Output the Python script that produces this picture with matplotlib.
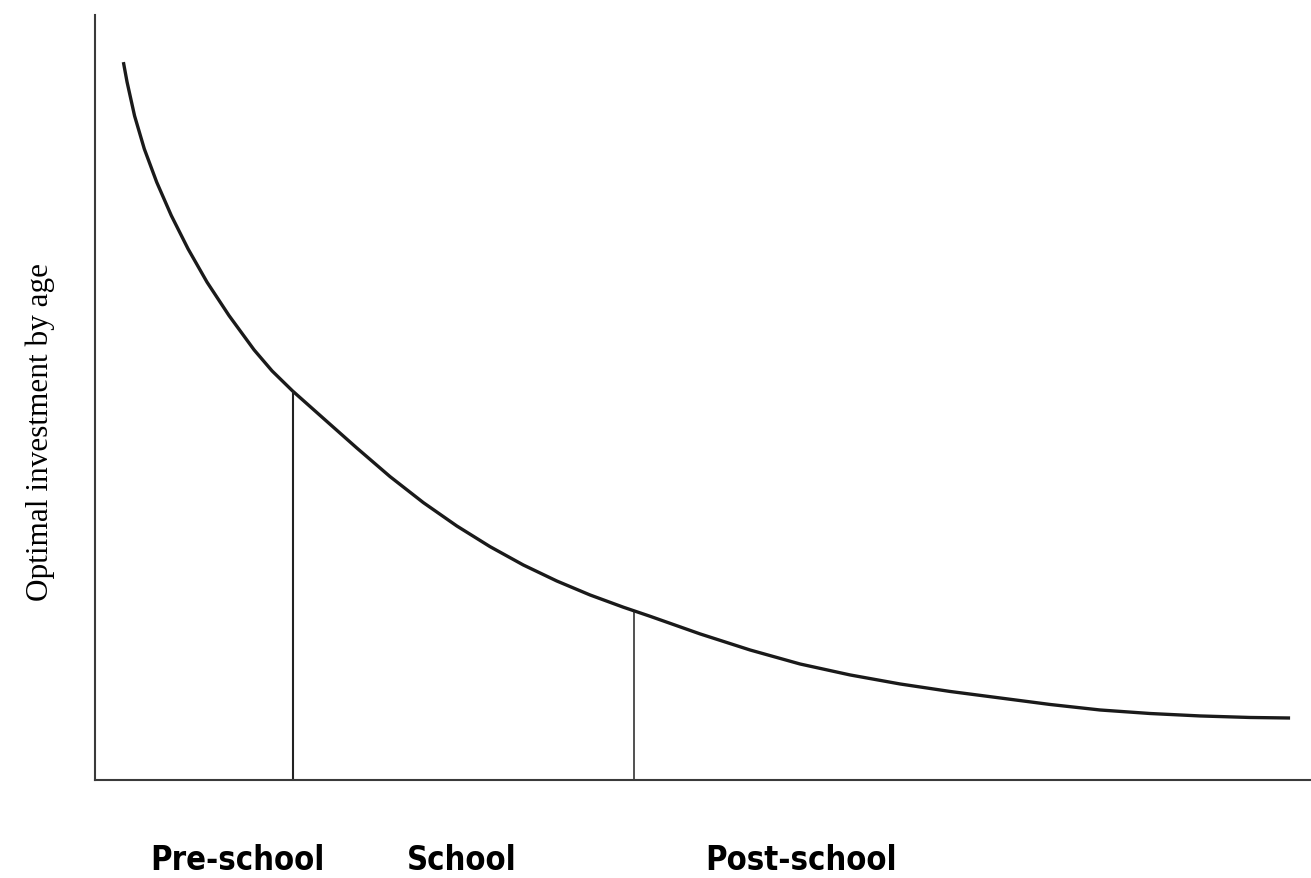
import numpy as np
import matplotlib.pyplot as plt

# ================== DATI ==================
# eta' (unita' arbitrarie, 0-100) e investimento ottimale (0-100)
age = [2.33, 2.63, 3.25, 4.05, 5.07, 6.27, 7.65, 9.21, 11.02, 13.08,
       14.56, 16.24, 18.78, 21.52, 24.26, 27.00, 29.75, 32.48, 35.22,
       37.97, 40.71, 43.45, 45.64, 49.76, 53.87, 57.98, 62.09, 66.20,
       70.32, 74.43, 78.54, 82.65, 86.76, 90.88, 94.99, 98.28]
investment = [93.82, 91.24, 86.80, 82.48, 78.13, 73.77, 69.41, 65.06,
              60.69, 56.21, 53.46, 50.85, 47.26, 43.40, 39.65, 36.25,
              33.20, 30.50, 28.10, 26.01, 24.18, 22.58, 21.40, 19.09,
              16.99, 15.16, 13.73, 12.55, 11.57, 10.72, 9.87, 9.15, 8.69,
              8.37, 8.17, 8.10]

# confini tra le fasi
boundaries = [16.24, 44.33]
boundary_widths = [1.5, 1.1]

# etichette delle fasi e loro posizione orizzontale
stages = ['Pre-school', 'School', 'Post-school']
stage_pos = [11.68, 30.18, 58.06]

# ================== GRAFICO ==================
fig = plt.figure(figsize=(13.11, 8.79), dpi=100)
ax = fig.add_axes([0.0725, 0.1115, 0.9275, 0.8705])

ax.plot(age, investment, color='#1a1a1a', linewidth=2.4,
        solid_capstyle='butt', solid_joinstyle='round')

for b, w in zip(boundaries, boundary_widths):
    top = np.interp(b, age, investment)
    ax.vlines(b, 0, top, color='#222222', linewidth=w)

ax.set_xlim(0, 100)
ax.set_ylim(0, 100)

for side in ['top', 'right']:
    ax.spines[side].set_visible(False)
for side in ['left', 'bottom']:
    ax.spines[side].set_color('#3a3a3a')
    ax.spines[side].set_linewidth(1.5)

ax.set_xticks([])
ax.set_yticks([])

# etichetta asse y (serif, come nell'originale)
fig.text(0.0305, 0.5085, 'Optimal investment by age', rotation=90,
         ha='center', va='center', family='Liberation Serif', fontsize=22.5)

for name, pos in zip(stages, stage_pos):
    ax.text(pos, -0.104, name, transform=ax.get_xaxis_transform(),
            ha='center', va='center', fontsize=23.5, fontweight='bold',
            family='DejaVu Sans', fontstretch='condensed')

fig.savefig('out.png', dpi=100)
